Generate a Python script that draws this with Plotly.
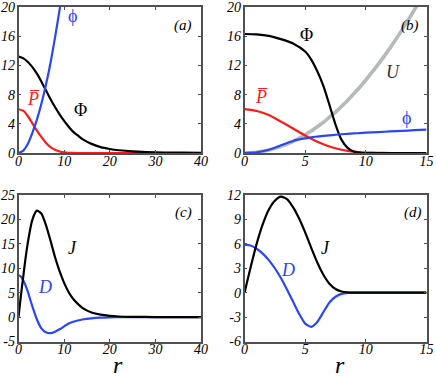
import plotly.graph_objects as go

W, H = 436, 379

# ---------- data ----------
# panel (a)
a_r_big = [0, 1, 2, 3, 4, 5, 6, 7, 8, 9, 10, 11, 12, 13, 14, 16, 18, 20, 22, 25, 28, 32, 36, 40]
a_Phi = [13.2, 13.0, 12.5, 11.8, 10.9, 9.8, 8.6, 7.4, 6.3, 5.3, 4.4, 3.6, 2.9, 2.4, 1.9, 1.25, 0.8, 0.55, 0.38, 0.22, 0.13, 0.07, 0.04, 0.02]
a_r_P = [0, 1, 2, 3, 4, 5, 6, 7, 8, 9, 10, 11, 12, 14, 20, 30, 40]
a_P = [6.0, 5.8, 5.1, 4.1, 3.1, 2.2, 1.4, 0.8, 0.45, 0.2, 0.08, 0.03, 0.01, 0.0, 0.0, 0.0, 0.0]
a_r_phi = [0, 1, 2, 3, 4, 5, 6, 7, 8, 9, 9.5]
a_phi = [0.0, 0.3, 1.2, 2.7, 4.5, 6.7, 9.3, 12.3, 15.8, 19.6, 21.6]

# panel (b)
b_r = [0, 1, 2, 3, 4, 5, 5.5, 6, 6.5, 7, 7.5, 8, 8.5, 9, 9.5, 10, 11, 12, 13, 14, 15]
b_Phi = [16.3, 16.25, 16.05, 15.6, 15.0, 13.9, 12.8, 11.2, 9.2, 6.6, 3.9, 1.8, 0.7, 0.2, 0.05, 0.0, 0.0, 0.0, 0.0, 0.0, 0.0]
b_P = [6.0, 5.75, 5.2, 4.3, 3.35, 2.4, 1.95, 1.55, 1.2, 0.9, 0.65, 0.45, 0.3, 0.18, 0.1, 0.06, 0.02, 0.0, 0.0, 0.0, 0.0]
b_phi = [0.0, 0.1, 0.45, 1.05, 1.65, 2.0, 2.15, 2.25, 2.35, 2.42, 2.5, 2.57, 2.63, 2.68, 2.73, 2.78, 2.87, 2.95, 3.03, 3.12, 3.2]
b_U = [0.0, 0.1, 0.4, 0.9, 1.6, 2.5, 3.0, 3.6, 4.2, 4.9, 5.6, 6.4, 7.2, 8.1, 9.0, 10.0, 12.1, 14.4, 16.9, 19.6, 22.5]

# panel (c)
c_r = [0, 0.5, 1, 1.5, 2, 3, 4, 5, 6, 7, 8, 9, 10, 11, 12, 13, 14, 16, 18, 20, 22, 25, 30, 35, 40]
c_J = [0.0, 4.2, 8.0, 11.7, 15.0, 19.8, 21.8, 21.2, 18.9, 15.7, 12.3, 9.4, 7.0, 5.1, 3.7, 2.7, 1.9, 0.95, 0.5, 0.25, 0.12, 0.05, 0.01, 0.0, 0.0]
c_D = [8.6, 8.3, 7.6, 6.6, 5.3, 2.3, -0.4, -2.3, -3.1, -3.3, -3.0, -2.5, -1.9, -1.3, -0.95, -0.7, -0.5, -0.25, -0.12, -0.05, -0.02, 0.0, 0.0, 0.0, 0.0]

# panel (d)
d_r = [0, 0.5, 1, 1.5, 2, 2.5, 3, 3.5, 4, 4.5, 5, 5.5, 6, 6.5, 7, 7.5, 8, 8.5, 9, 10, 12, 15]
d_J = [0.0, 3.1, 6.0, 8.4, 10.2, 11.3, 11.8, 11.5, 10.5, 9.1, 7.4, 5.5, 3.7, 2.2, 1.1, 0.45, 0.15, 0.04, 0.0, 0.0, 0.0, 0.0]
d_D = [5.9, 5.8, 5.4, 4.8, 4.0, 3.0, 1.8, 0.4, -1.1, -2.6, -3.8, -4.2, -3.6, -2.4, -1.2, -0.5, -0.15, -0.03, 0.0, 0.0, 0.0, 0.0]

x_ticks_long = [0, 10, 20, 30, 40]
x_ticks_short = [0, 5, 10, 15]
a_y_ticks = [0, 4, 8, 12, 16, 20]
b_y_ticks = [0, 4, 8, 12, 16, 20]
c_y_ticks = [-5, 0, 5, 10, 15, 20, 25]
d_y_ticks = [-6, -3, 0, 3, 6, 9, 12]

# ---------- styling ----------
BLACK = "#000000"
RED = "#ff1a1a"
BLUE = "#2a46f5"
GRAY = "#b4bab7"
SERIF = "Liberation Serif, serif"

def px_x(x):
    return x / W

def px_y(y):
    return 1 - y / H

dom_x_left = [px_x(18.5), px_x(201)]
dom_x_right = [px_x(244.5), px_x(426.5)]
dom_y_top = [px_y(153), px_y(7)]
dom_y_bot = [px_y(341.5), px_y(195)]

fig = go.Figure()

def line(x, y, color, xa, ya, width=2.2):
    fig.add_trace(go.Scatter(x=x, y=y, mode="lines", xaxis=xa, yaxis=ya,
                             line=dict(color=color, width=width, shape="spline", smoothing=0.6),
                             showlegend=False, hoverinfo="skip"))

# (a)
line(a_r_P, a_P, RED, "x", "y")
line(a_r_big, a_Phi, BLACK, "x", "y")
line(a_r_phi, a_phi, BLUE, "x", "y")
# (b)
line(b_r, b_U, GRAY, "x2", "y2", width=3.6)
line(b_r, b_P, RED, "x2", "y2")
line(b_r, b_Phi, BLACK, "x2", "y2")
line(b_r, b_phi, BLUE, "x2", "y2")
# (c)
line(c_r, c_D, BLUE, "x3", "y3")
line(c_r, c_J, BLACK, "x3", "y3")
# (d)
line(d_r, d_D, BLUE, "x4", "y4")
line(d_r, d_J, BLACK, "x4", "y4")

def axis(vals, standoff=0, **kw):
    d = dict(showline=True, mirror="ticks", linecolor="#505050", linewidth=1.5,
             ticks="inside", ticklen=3, tickcolor="#505050", tickwidth=1,
             showgrid=False, zeroline=False, automargin=False,
             tickmode="array", tickvals=vals,
             ticktext=["<i>%g</i>" % v for v in vals],
             ticklabelstandoff=standoff, ticklabeloverflow="allow",
             tickfont=dict(family=SERIF, size=14, color="#000"))
    d.update(kw)
    return d

fig.update_layout(
    width=W, height=H, margin=dict(l=0, r=0, t=0, b=0),
    paper_bgcolor="white", plot_bgcolor="white",
    font=dict(family=SERIF, size=14, color="#000"),
    xaxis=axis(x_ticks_long, -6, domain=dom_x_left, anchor="y", range=[0, 40]),
    yaxis=axis(a_y_ticks, -1, domain=dom_y_top, anchor="x", range=[0, 20]),
    xaxis2=axis(x_ticks_short, -6, domain=dom_x_right, anchor="y2", range=[0, 15]),
    yaxis2=axis(b_y_ticks, -1, domain=dom_y_top, anchor="x2", range=[0, 20]),
    xaxis3=axis(x_ticks_long, -6, domain=dom_x_left, anchor="y3", range=[0, 40]),
    yaxis3=axis(c_y_ticks, -1, domain=dom_y_bot, anchor="x3", range=[-5, 25]),
    xaxis4=axis(x_ticks_short, -6, domain=dom_x_right, anchor="y4", range=[0, 15]),
    yaxis4=axis(d_y_ticks, -1, domain=dom_y_bot, anchor="x4", range=[-6, 12]),
)

def label(text, x, y, color=BLACK, size=17, italic=True):
    fig.add_annotation(text=text, x=px_x(x), y=px_y(y), xref="paper", yref="paper",
                       xanchor="center", yanchor="middle", showarrow=False,
                       font=dict(family=SERIF, size=size, color=color,
                                 style="italic" if italic else "normal"))

# panel (a)
label("(a)", 183, 26, size=15)
label("\u03d5", 72, 16, BLUE, size=18, italic=False)
label("P\u0305", 33, 99, RED, size=18)
label("\u03a6", 80, 110, BLACK, size=18, italic=False)
# panel (b)
label("(b)", 410, 25, size=15)
label("\u03a6", 306, 35, BLACK, size=18, italic=False)
label("U", 393, 72, "#333333", size=18)
label("P\u0305", 261, 97, RED, size=18)
label("\u03d5", 406, 118, BLUE, size=18, italic=False)
# panel (c)
label("(c)", 183, 212, size=15)
label("J", 72, 248, BLACK, size=18)
label("D", 45, 287, BLUE, size=18)
# panel (d)
label("(d)", 413, 212, size=15)
label("J", 325, 248, BLACK, size=18)
label("D", 288, 270, BLUE, size=18)
# axis titles
label("r", 118, 365, BLACK, size=24)
label("r", 340, 365, BLACK, size=24)

fig.write_html("out.html", config={"displayModeBar": False},
               post_script="document.body.style.margin='0';document.body.style.overflow='hidden';")
